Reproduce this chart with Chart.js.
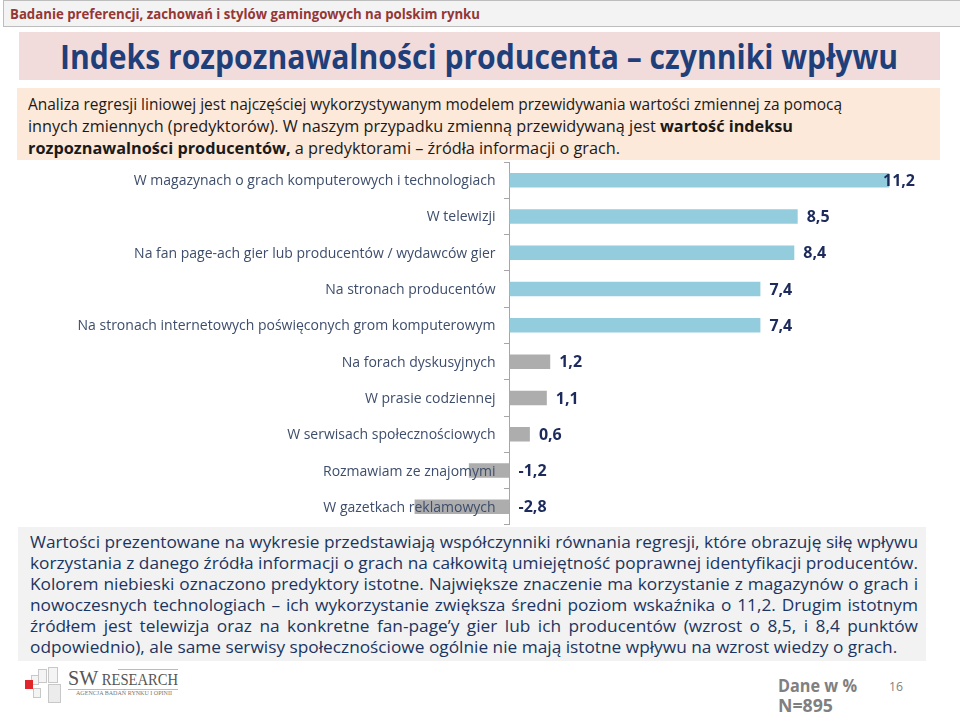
<!DOCTYPE html>
<html>
<head>
<meta charset="utf-8">
<script src="https://cdn.jsdelivr.net/npm/chart.js"></script>
<style>
  html, body { margin: 0; padding: 0; }
  body { width: 960px; height: 712px; position: relative; overflow: hidden; background: #fff; font-family: 'Open Sans', sans-serif; }
  .box { position: absolute; }
  .fit { position: absolute; white-space: nowrap; transform-origin: 0 50%; }
  .hdr { left: 3px; top: 0; width: 957px; height: 25px; background: #f3f3f3; border-top: 1px solid #bdbdbd; border-left: 1px solid #bdbdbd; border-bottom: 1px solid #bdbdbd; }
  .titleband { left: 19px; top: 32px; width: 921px; height: 48px; background: #f2dcdb; }
  .introband { left: 17px; top: 88px; width: 923px; height: 72px; background: #fde9d9; }
  .noteband { left: 18px; top: 527px; width: 908px; height: 134px; background: #f2f2f2; }
  .intro { font-size: 16px; line-height: 22px; color: #1a1a1a; }
  .note { font-size: 16px; line-height: 21px; color: #1b3560; }
  #chartWrap { position: absolute; left: 20px; top: 162px; width: 895px; height: 363px; }
</style>
</head>
<body>
<div class="box hdr"></div>
<div class="fit" data-w="470" style="left:10px; top:3px; font-size:15px; line-height:20px; font-weight:700; color:#953735;">Badanie preferencji, zachowań i stylów gamingowych na polskim rynku</div>

<div class="box titleband"></div>
<div class="fit" data-w="838" style="left:60px; top:34px; font-size:34px; line-height:44px; font-weight:700; color:#1f3f7a;">Indeks rozpoznawalności producenta – czynniki wpływu</div>

<div class="box introband"></div>
<div class="fit intro" data-w="814" style="left:28px; top:93px;">Analiza regresji liniowej jest najczęściej wykorzystywanym modelem przewidywania wartości zmiennej za pomocą</div>
<div class="fit intro" data-w="765" style="left:28px; top:115px;">innych zmiennych (predyktorów). W naszym przypadku zmienną przewidywaną jest <b>wartość indeksu</b></div>
<div class="fit intro" data-w="592" style="left:28px; top:137px;"><b>rozpoznawalności producentów,</b> a predyktorami – źródła informacji o grach.</div>

<div id="chartWrap"><canvas id="chart" width="895" height="363"></canvas></div>

<div class="box noteband"></div>
<div class="fit note jline" style="left:30px; top:532px;">Wartości prezentowane na wykresie przedstawiają współczynniki równania regresji, które obrazuję siłę wpływu</div>
<div class="fit note jline" style="left:30px; top:553px;">korzystania z danego źródła informacji o grach na całkowitą umiejętność poprawnej identyfikacji producentów.</div>
<div class="fit note jline" style="left:30px; top:574px;">Kolorem niebieski oznaczono predyktory istotne. Największe znaczenie ma korzystanie z magazynów o grach i</div>
<div class="fit note jline" style="left:30px; top:595px;">nowoczesnych technologiach – ich wykorzystanie zwiększa średni poziom wskaźnika o 11,2. Drugim istotnym</div>
<div class="fit note jline" style="left:30px; top:616px;">źródłem jest telewizja oraz na konkretne fan-page’y gier lub ich producentów (wzrost o 8,5, i 8,4 punktów</div>
<div class="fit note jline last" style="left:30px; top:637px;">odpowiednio), ale same serwisy społecznościowe ogólnie nie mają istotne wpływu na wzrost wiedzy o grach.</div>

<!-- logo -->
<div class="box" style="left:38px; top:669px; width:7px; height:12px; border:1px solid #c8c8c8; background:#f4f4f4;"></div>
<div class="box" style="left:48px; top:667px; width:8px; height:14px; border:1px solid #c8c8c8; background:#f4f4f4;"></div>
<div class="box" style="left:31px; top:675px; width:6px; height:8px; border:1px solid #c8c8c8; background:#f4f4f4;"></div>
<div class="box" style="left:25px; top:680px; width:8px; height:9px; background:#e0262b;"></div>
<div class="box" style="left:33px; top:688px; width:6px; height:8px; border:1px solid #c8c8c8; background:#f4f4f4;"></div>
<div class="box" style="left:48px; top:684px; width:11px; height:17px; border:1px solid #c8c8c8; background:#ececec;"></div>
<div class="box" style="left:118px; top:669px; width:60px; height:1px; background:#bbb;"></div>
<div class="fit" data-w="110" style="left:68px; top:666px; font-family:'Liberation Serif', serif; font-size:22px; line-height:24px; color:#555;">SW<span style="font-size:16px;"> RESEARCH</span></div>
<div class="box" style="left:68px; top:689px; width:110px; height:1px; background:#bbb;"></div>
<div class="fit" data-w="96" style="left:76px; top:690px; font-family:'Liberation Serif', serif; font-size:6px; line-height:7px; color:#777;">AGENCJA BADAŃ RYNKU I OPINII</div>

<div class="fit" data-w="79" style="left:778px; top:673px; font-size:18px; line-height:24px; font-weight:700; color:#808080;">Dane w %</div>
<div class="fit" data-w="55" style="left:778px; top:693px; font-size:18px; line-height:24px; font-weight:700; color:#808080;">N=895</div>
<div class="fit" data-w="14" style="left:889px; top:677px; font-size:13px; line-height:18px; color:#808080;">16</div>

<script>
const categories = [
  'W magazynach o grach komputerowych i technologiach',
  'W telewizji',
  'Na fan page-ach gier lub producentów / wydawców gier',
  'Na stronach producentów',
  'Na stronach internetowych poświęconych grom komputerowym',
  'Na forach dyskusyjnych',
  'W prasie codziennej',
  'W serwisach społecznościowych',
  'Rozmawiam ze znajomymi',
  'W gazetkach reklamowych'
];
const values = [11.2, 8.5, 8.4, 7.4, 7.4, 1.2, 1.1, 0.6, -1.2, -2.8];
const significant = [true, true, true, true, true, false, false, false, false, false];

const BLUE = '#93cddd';
const GRAY = '#adadad';

// fit single text lines to their widths in the slide
document.querySelectorAll('.fit[data-w]').forEach(el => {
  const nat = el.getBoundingClientRect().width;
  el.style.transform = 'scaleX(' + (+el.dataset.w / nat) + ')';
});

// justified note paragraph, one line per div
const NOTE_W = 888;
const jlines = Array.from(document.querySelectorAll('.jline'));
let s = Infinity;
jlines.forEach(el => { s = Math.min(s, NOTE_W / el.getBoundingClientRect().width); });
jlines.forEach(el => {
  if (!el.classList.contains('last')) {
    el.style.width = (NOTE_W / s) + 'px';
    el.style.textAlign = 'justify';
    el.style.textAlignLast = 'justify';
    el.style.whiteSpace = 'normal';
  }
  el.style.transform = 'scaleX(' + s + ')';
});

// category names and values, drawn on top of the bars
const barText = {
  id: 'barText',
  afterDatasetsDraw(chart) {
    const ctx = chart.ctx;
    const meta = chart.getDatasetMeta(0);
    const yScale = chart.scales.y;
    const zero = chart.scales.x.getPixelForValue(0);
    ctx.save();
    ctx.textBaseline = 'middle';

    ctx.font = '14px "Open Sans"';
    ctx.fillStyle = '#3d4d6b';
    ctx.textAlign = 'right';
    yScale.getLabels().forEach((lab, i) => {
      ctx.fillText(lab, zero - 14, yScale.getPixelForTick(i) + 1);
    });

    ctx.font = 'bold 16px "Open Sans"';
    ctx.fillStyle = '#1c2a5c';
    ctx.textAlign = 'left';
    meta.data.forEach((bar, i) => {
      const txt = values[i].toFixed(1).replace('.', ',');
      const w = ctx.measureText(txt).width;
      let x = values[i] >= 0 ? bar.x + 9 : zero + 9;
      if (x + w > chart.chartArea.right) x = chart.chartArea.right - w;
      ctx.fillText(txt, x, bar.y + 1);
    });
    ctx.restore();
  }
};

new Chart(document.getElementById('chart').getContext('2d'), {
  type: 'bar',
  data: {
    labels: categories,
    datasets: [{
      data: values,
      backgroundColor: significant.map(v => v ? BLUE : GRAY),
      barPercentage: 0.4,
      categoryPercentage: 1
    }]
  },
  options: {
    indexAxis: 'y',
    responsive: false,
    animation: false,
    layout: { padding: 0 },
    plugins: { legend: { display: false }, tooltip: { enabled: false } },
    scales: {
      x: { display: false, min: -14.44, max: 11.96 },
      y: {
        position: { x: 0 },
        grid: { drawOnChartArea: false, tickLength: 5, color: '#a6a6a6', offset: true },
        border: { color: '#a6a6a6' },
        ticks: { display: false },
        afterFit(scale) { scale.paddingTop = 0; scale.paddingBottom = 0; }
      }
    }
  },
  plugins: [barText]
});
</script>
</body>
</html>
